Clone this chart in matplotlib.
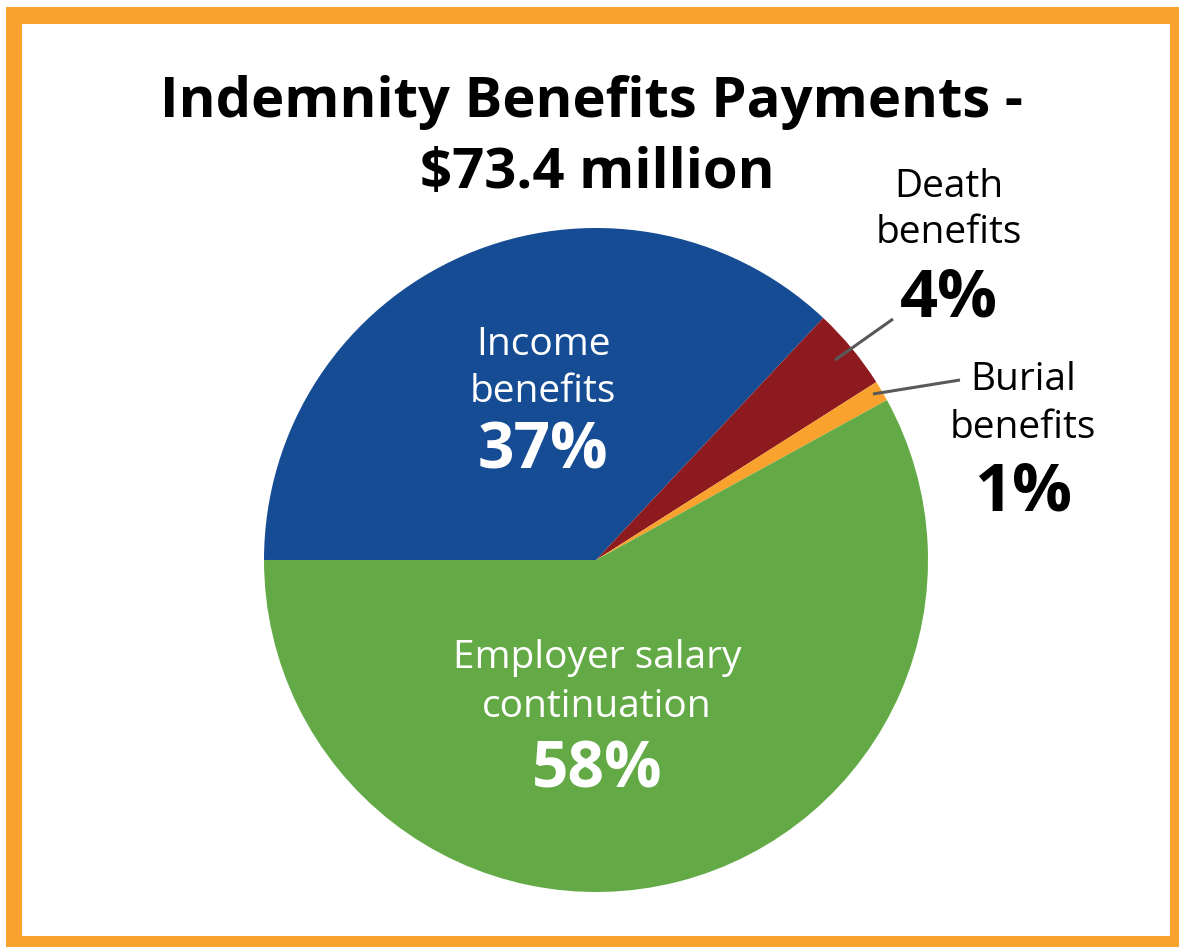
import matplotlib
matplotlib.use("Agg")
import matplotlib.pyplot as plt
from matplotlib.patches import Rectangle

plt.rcParams['font.family'] = ['Open Sans', 'DejaVu Sans']

# data
labels = ['Income\nbenefits', 'Death\nbenefits', 'Burial\nbenefits', 'Employer salary\ncontinuation']
shares = [37, 4, 1, 58]
colors = ['#154C94', '#8C1A1E', '#F9A32E', '#63AA46']
title = 'Indemnity Benefits Payments -\n$73.4 million'

W, H = 1179, 947
fig = plt.figure(figsize=(W / 100, H / 100), dpi=100)

# orange frame
fig.patches.append(Rectangle((6 / W, 0), 1 - 6 / W, (H - 7) / H, transform=fig.transFigure,
                             facecolor='#F9A32E', edgecolor='none', zorder=-2))
fig.patches.append(Rectangle((22 / W, 11 / H), (1170 - 22) / W, (923 - 11) / H, transform=fig.transFigure,
                             facecolor='white', edgecolor='none', zorder=-1))

# pie axes: center (596, 560) px, radius 332 px
cx, cy, r = 596, 560, 332
ax = fig.add_axes([(cx - r) / W, (H - cy - r) / H, 2 * r / W, 2 * r / H])
ax.set_zorder(2)
ax.pie(shares, colors=colors, startangle=180, counterclock=False, radius=1,
       wedgeprops=dict(linewidth=0))
ax.set_xlim(-1, 1)
ax.set_ylim(-1, 1)
ax.axis('off')


def pt(px, py):
    return (px - cx) / r, (cy - py) / r


def block(lines, x, baselines, color, sizes, weights):
    for s, y, fs, fw in zip(lines, baselines, sizes, weights):
        xx, yy = pt(x, y)
        ax.text(xx, yy, s, ha='center', va='baseline', color=color, fontsize=fs, fontweight=fw)


lab = [l.split('\n') for l in labels]
pcts = ['%d%%' % v for v in shares]

block(lab[0] + [pcts[0]], 543, [355, 402, 468], 'white', [28, 28, 46], ['normal', 'normal', 'bold'])
block(lab[3] + [pcts[3]], 597, [668, 717, 787], 'white', [28, 28, 46], ['normal', 'normal', 'bold'])
block(lab[1] + [pcts[1]], 949, [197, 243, 316], 'black', [28, 28, 48], ['normal', 'normal', 'bold'])
block(lab[2] + [pcts[2]], 1023, [390, 438, 510], 'black', [28, 28, 48], ['normal', 'normal', 'bold'])

# leader lines
for (a, b) in [((835, 360), (893, 319)), ((873, 394), (960, 380))]:
    p0, p1 = pt(*a), pt(*b)
    ax.plot([p0[0], p1[0]], [p0[1], p1[1]], color='#595959', lw=2.2, clip_on=False,
            solid_capstyle='butt')

t1, t2 = title.split('\n')
fig.text(591 / W, 1 - 117 / H, t1, ha='center', va='baseline', fontsize=40.5, fontweight='bold')
fig.text(597 / W, 1 - 188 / H, t2, ha='center', va='baseline', fontsize=40.5, fontweight='bold')

fig.savefig('out.png', dpi=100, facecolor='white')
